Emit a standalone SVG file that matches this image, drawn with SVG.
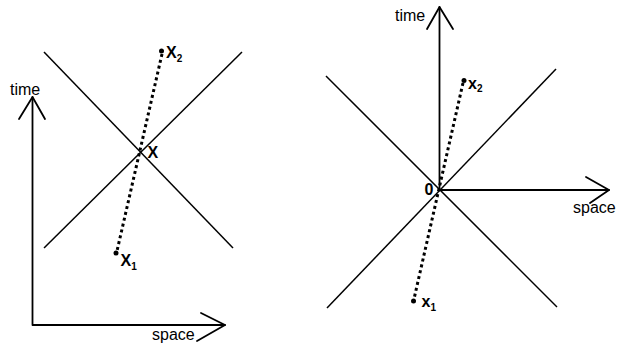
<svg xmlns="http://www.w3.org/2000/svg" width="617" height="349" viewBox="0 0 617 349">
<style>
.ax{stroke:#000;stroke-width:1.8;fill:none;stroke-linecap:round;stroke-linejoin:round}
.ln{stroke:#000;stroke-width:1.5;fill:none}
.dot{stroke:#000;stroke-width:3;stroke-dasharray:3 3;fill:none}
.lbl{font-family:"Liberation Sans",Arial,sans-serif;font-size:16px;fill:#000}
.pt{font-family:"Liberation Sans",Arial,sans-serif;font-weight:bold;font-size:16px;fill:#000}
.sub{font-size:10px}
</style>
<rect width="617" height="349" fill="#fff"/>
<g id="connectors">
  <!-- left panel -->
  <path class="ax" d="M32.5,97 V325 H225"/>
  <path class="ax" d="M19,119 L32.5,97 L45,119"/>
  <path class="ax" d="M201,313 L225,325 L197,341"/>
  <line class="ln" x1="44" y1="52" x2="233" y2="248"/>
  <line class="ln" x1="44" y1="248" x2="242" y2="52"/>
  <line class="dot" x1="162" y1="54" x2="117" y2="251"/>
  <!-- right panel -->
  <path class="ax" d="M439.5,190 V7 M439.5,190 H609"/>
  <path class="ax" d="M427,29 L439.5,7 L453,29"/>
  <path class="ax" d="M586,177 L609,190 L590,203"/>
  <line class="ln" x1="326" y1="76" x2="557" y2="307"/>
  <line class="ln" x1="327" y1="308" x2="556" y2="69"/>
  <line class="dot" x1="463" y1="83" x2="414" y2="299"/>
</g>
<g id="left-time"><text class="lbl" x="10" y="95">time</text></g>
<g id="left-space"><text class="lbl" x="152" y="340">space</text></g>
<g id="left-X2"><circle cx="161.5" cy="51" r="2.5"/><text class="pt" x="166" y="58">X<tspan class="sub" dy="4">2</tspan></text></g>
<g id="left-X"><text class="pt" x="147.5" y="158">X</text></g>
<g id="left-X1"><circle cx="116" cy="253" r="2.5"/><text class="pt" x="120.5" y="266">X<tspan class="sub" dy="4">1</tspan></text></g>
<g id="right-time"><text class="lbl" x="395" y="21">time</text></g>
<g id="right-space"><text class="lbl" x="573" y="213">space</text></g>
<g id="right-0"><text class="pt" x="424.5" y="195">0</text></g>
<g id="right-x2"><circle cx="464" cy="80.5" r="2.5"/><text class="pt" x="468" y="89">x<tspan class="sub" dy="3">2</tspan></text></g>
<g id="right-x1"><circle cx="413.5" cy="301" r="2.5"/><text class="pt" x="421.5" y="307">x<tspan class="sub" dy="4">1</tspan></text></g>
</svg>
